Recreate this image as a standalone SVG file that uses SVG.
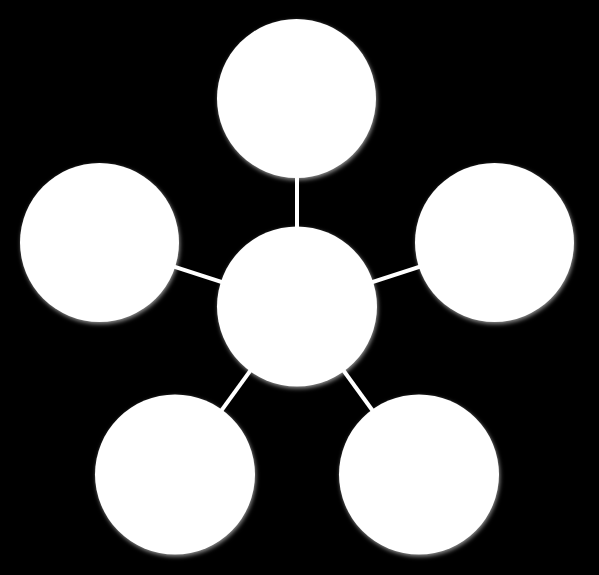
<svg xmlns="http://www.w3.org/2000/svg" width="599" height="575" viewBox="0 0 599 575">
<style>
.node{fill:#ffffff;filter:url(#sh);}
.conn line{stroke:#ffffff;stroke-width:4;}
</style>
<defs>
<filter id="sh" x="-20%" y="-20%" width="140%" height="140%">
<feGaussianBlur in="SourceAlpha" stdDeviation="2"/>
<feOffset dx="1" dy="2" result="b"/>
<feFlood flood-color="#ffffff" flood-opacity="0.55"/>
<feComposite in2="b" operator="in"/>
<feMerge><feMergeNode/><feMergeNode in="SourceGraphic"/></feMerge>
</filter>
</defs>
<rect width="599" height="575" fill="#000000"/>
<g id="connectors" class="conn">
<line x1="297" y1="306.5" x2="297" y2="98.5"/>
<line x1="297" y1="306.5" x2="99.5" y2="242.5"/>
<line x1="297" y1="306.5" x2="494.5" y2="242.5"/>
<line x1="297" y1="306.5" x2="175" y2="474.5"/>
<line x1="297" y1="306.5" x2="419" y2="474.5"/>
</g>
<g id="node-top"><circle class="node" cx="296.5" cy="98.5" r="79.5"/></g>
<g id="node-left"><circle class="node" cx="99.5" cy="242.5" r="79.5"/></g>
<g id="node-right"><circle class="node" cx="494.5" cy="242.5" r="79.5"/></g>
<g id="node-center"><circle class="node" cx="297" cy="306.5" r="80"/></g>
<g id="node-bottom-left"><circle class="node" cx="175" cy="474.5" r="80"/></g>
<g id="node-bottom-right"><circle class="node" cx="419" cy="474.5" r="80"/></g>
</svg>
